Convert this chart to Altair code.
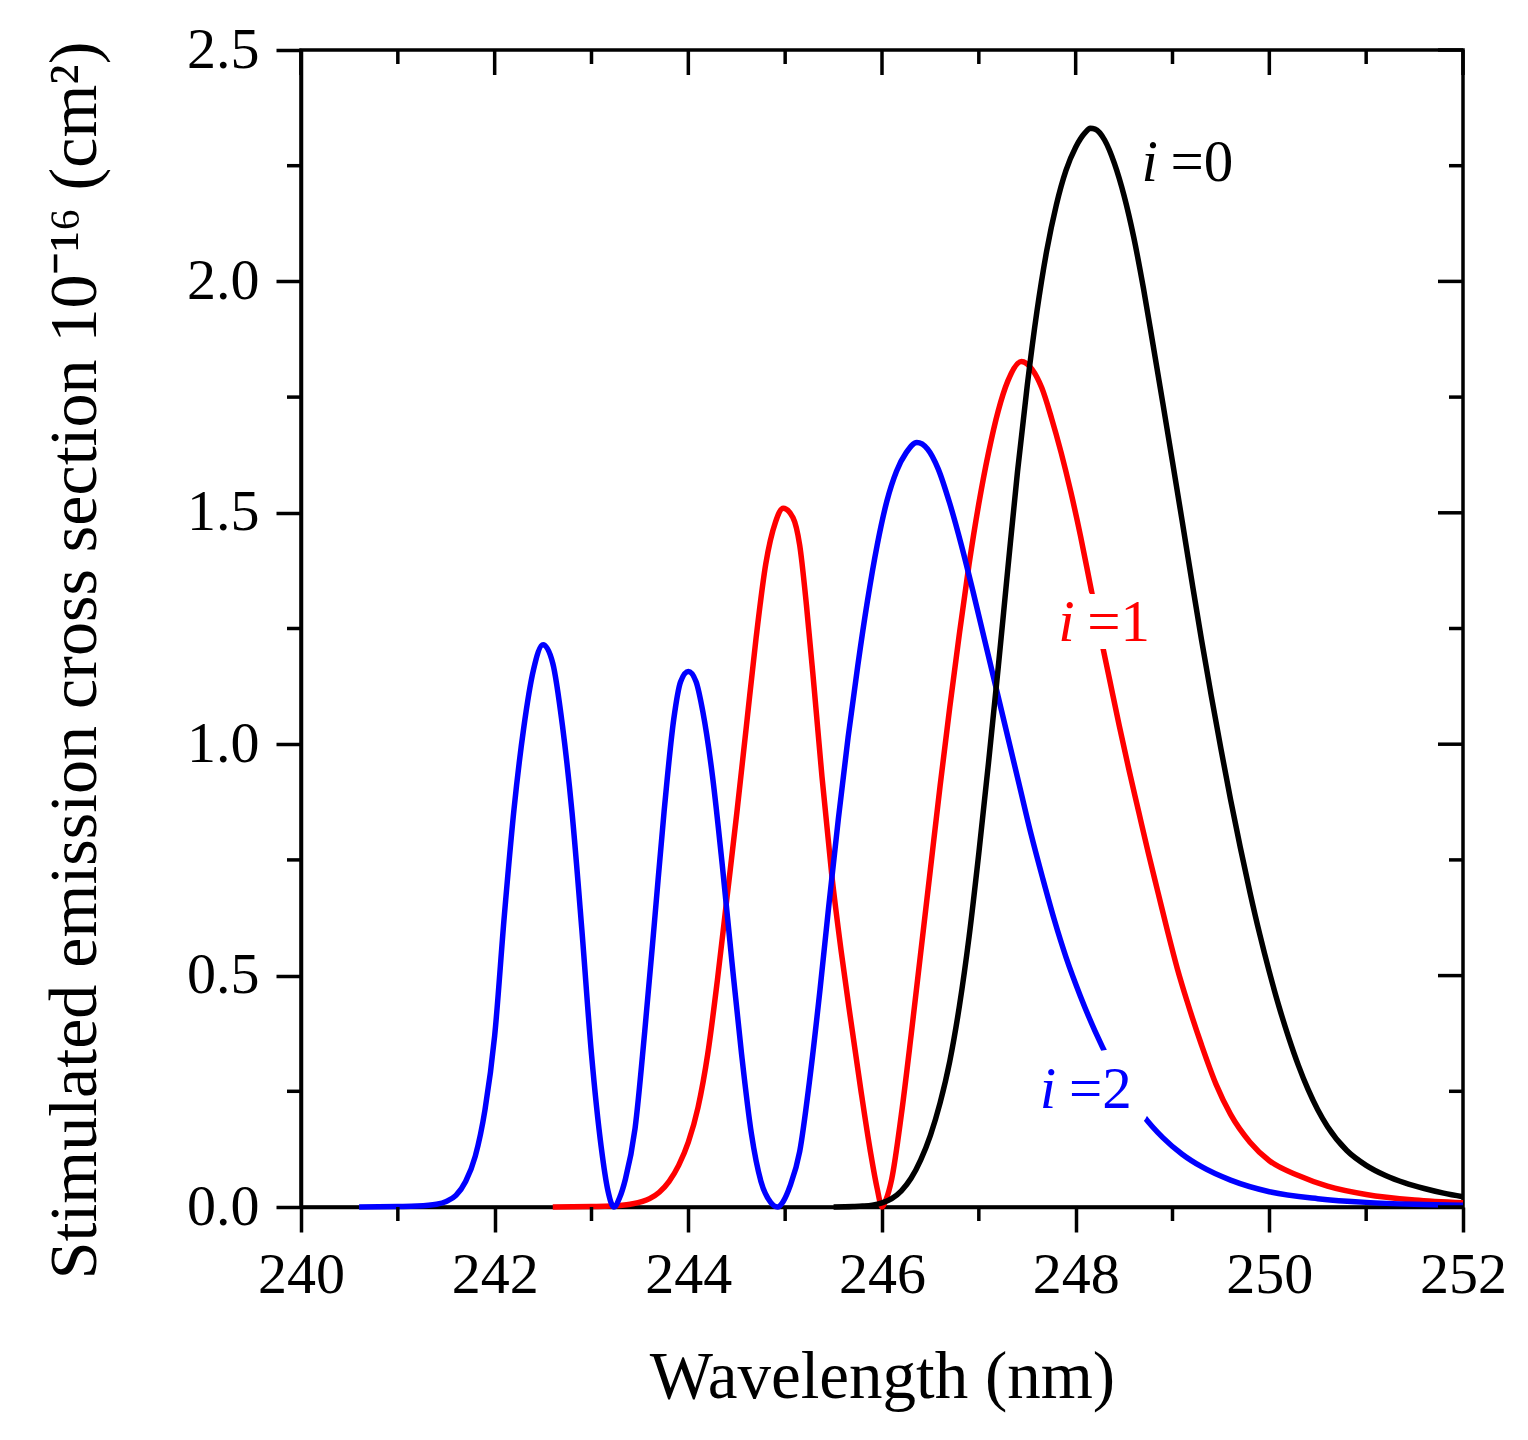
import altair as alt
import pandas as pd

# ---- data ----
# i = 0 (black)
lam0 = [245.5, 245.7, 245.8, 245.9, 246.0, 246.1, 246.2, 246.3, 246.4, 246.5, 246.6, 246.7,
        246.8, 246.9, 247.0, 247.1, 247.2, 247.3, 247.4, 247.5, 247.6, 247.7, 247.8, 247.9,
        248.0, 248.1, 248.15, 248.2, 248.3, 248.4, 248.5, 248.6, 248.7, 248.8, 248.9, 249.0,
        249.1, 249.2, 249.3, 249.4, 249.5, 249.6, 249.7, 249.8, 249.9, 250.0, 250.1, 250.2,
        250.3, 250.4, 250.5, 250.6, 250.8, 251.0, 251.2, 251.4, 251.6, 251.8, 252.0]
sig0 = [0.0, 0.001, 0.002, 0.004, 0.009, 0.018, 0.035, 0.062, 0.102, 0.155, 0.225, 0.315,
        0.435, 0.585, 0.765, 0.96, 1.165, 1.38, 1.59, 1.775, 1.935, 2.065, 2.165, 2.24,
        2.29, 2.322, 2.331, 2.329, 2.305, 2.255, 2.185, 2.095, 1.985, 1.862, 1.737, 1.61,
        1.482, 1.352, 1.225, 1.105, 0.99, 0.88, 0.777, 0.68, 0.59, 0.508, 0.433, 0.366,
        0.306, 0.254, 0.21, 0.174, 0.122, 0.09, 0.068, 0.052, 0.04, 0.03, 0.022]
# i = 1 (red)
lam1 = [242.6, 243.0, 243.2, 243.4, 243.6, 243.7, 243.8, 243.9, 244.0, 244.1, 244.2, 244.3,
        244.4, 244.5, 244.6, 244.7, 244.8, 244.9, 244.98, 245.08, 245.15, 245.22, 245.3,
        245.38, 245.48, 245.58, 245.68, 245.78, 245.88, 245.95, 246.0, 246.04, 246.1, 246.2,
        246.3, 246.4, 246.5, 246.6, 246.7, 246.8, 246.9, 247.0, 247.1, 247.2, 247.3, 247.44,
        247.55, 247.65, 247.75, 247.85, 247.95, 248.05, 248.15, 248.25, 248.35, 248.45,
        248.55, 248.65, 248.75, 248.85, 248.95, 249.05, 249.15, 249.3, 249.45, 249.6, 249.8,
        250.0, 250.3, 250.6, 251.0, 251.5, 252.0]
sig1 = [0.0, 0.001, 0.002, 0.006, 0.018, 0.032, 0.055, 0.09, 0.14, 0.215, 0.33, 0.49,
        0.67, 0.85, 1.04, 1.23, 1.39, 1.48, 1.51, 1.49, 1.43, 1.3, 1.12,
        0.93, 0.72, 0.55, 0.4, 0.255, 0.12, 0.04, 0.0, 0.015, 0.06, 0.2,
        0.37, 0.55, 0.73, 0.91, 1.08, 1.24, 1.39, 1.52, 1.63, 1.72, 1.785, 1.827,
        1.81, 1.77, 1.705, 1.63, 1.545, 1.45, 1.345, 1.24, 1.14, 1.04,
        0.945, 0.855, 0.765, 0.68, 0.595, 0.515, 0.445, 0.35, 0.265, 0.2, 0.14,
        0.1, 0.068, 0.045, 0.027, 0.015, 0.009]
# i = 2 (blue)
lam2 = [240.6, 241.0, 241.2, 241.4, 241.5, 241.6, 241.7, 241.8, 241.9, 242.0, 242.1, 242.2,
        242.3, 242.4, 242.5, 242.6, 242.7, 242.8, 242.9, 243.0, 243.1, 243.17, 243.23, 243.29,
        243.35, 243.45, 243.55, 243.65, 243.75, 243.85, 243.92, 244.0, 244.08, 244.15, 244.25,
        244.35, 244.45, 244.55, 244.65, 244.75, 244.85, 244.92, 244.98, 245.05, 245.15, 245.25,
        245.36, 245.45, 245.55, 245.65, 245.75, 245.85, 245.95, 246.05, 246.15, 246.25, 246.36,
        246.47, 246.58, 246.7, 246.82, 246.94, 247.06, 247.18, 247.3, 247.42, 247.54, 247.66,
        247.78, 247.9, 248.05, 248.2, 248.35, 248.5, 248.7, 248.9, 249.1, 249.3, 249.6, 250.0,
        250.5, 251.0, 251.5, 252.0]
sig2 = [0.0, 0.001, 0.002, 0.006, 0.012, 0.025, 0.055, 0.11, 0.21, 0.37, 0.63, 0.86,
        1.035, 1.16, 1.215, 1.175, 1.04, 0.85, 0.6, 0.33, 0.13, 0.035, 0.0, 0.02,
        0.06, 0.17, 0.38, 0.615, 0.855, 1.055, 1.135, 1.157, 1.135, 1.07, 0.93,
        0.74, 0.53, 0.33, 0.16, 0.055, 0.01, 0.0, 0.012, 0.045, 0.12, 0.27,
        0.47, 0.65, 0.84, 1.015, 1.17, 1.31, 1.43, 1.525, 1.59, 1.63, 1.652,
        1.638, 1.595, 1.52, 1.43, 1.33, 1.225, 1.12, 1.015, 0.91, 0.805, 0.71,
        0.62, 0.54, 0.455, 0.38, 0.315, 0.26, 0.197, 0.15, 0.114, 0.087, 0.058, 0.033,
        0.018, 0.01, 0.006, 0.004]

series_names = ["i0", "i1", "i2"]
series_colors = ["#000000", "#ff0000", "#0000ff"]

x_major = [240, 242, 244, 246, 248, 250, 252]
x_minor = [241, 243, 245, 247, 249, 251]
y_major = [0.0, 0.5, 1.0, 1.5, 2.0, 2.5]
y_minor = [0.25, 0.75, 1.25, 1.75, 2.25]

# curve labels ("i =0" etc.)
lab_series = ["i0", "i1", "i2"]
lab_i_lam = [248.68, 247.82, 247.63]
lab_eq_lam = [248.98, 248.12, 247.93]
lab_sig = [2.218, 1.222, 0.214]
lab_eq_text = ["=0", "=1", "=2"]

# ---- build tables ----
rows = []
for name, ls, ss in zip(series_names, [lam0, lam1, lam2], [sig0, sig1, sig2]):
    for l, s in zip(ls, ss):
        rows.append({"lam": l, "sig": s, "series": name})
curves = pd.DataFrame(rows)
labels = pd.DataFrame({"series": lab_series, "li": lab_i_lam, "le": lab_eq_lam,
                       "sig": lab_sig, "eq": lab_eq_text})

W, H = 1162, 1157
FONT = "Liberation Serif"
MAJ, MIN = 25, 14
LW = 3.5
LABEL_FS = 59

xscale = alt.Scale(domain=[240, 252], nice=False, zero=False)
yscale = alt.Scale(domain=[0, 2.5], nice=False)
cscale = alt.Scale(domain=series_names, range=series_colors)

xaxis = alt.Axis(values=x_major, title="Wavelength (nm)", tickSize=MAJ, tickWidth=LW,
                 domainWidth=LW, domainColor="black", tickColor="black",
                 labelFont=FONT, labelFontSize=58, labelColor="black", labelPadding=14,
                 labelFlush=False, labelOverlap=False, grid=False, format="d",
                 titleFont=FONT, titleFontSize=67, titleFontWeight="normal",
                 titleColor="black", titlePadding=40)
yaxis = alt.Axis(values=y_major,
                 title="Stimulated emission cross section 10\u207b\u00b9\u2076 (cm\u00b2)",
                 tickSize=MAJ, tickWidth=LW, domainWidth=LW, domainColor="black",
                 tickColor="black", labelFont=FONT, labelFontSize=58, labelColor="black",
                 labelPadding=17, labelFlush=False, labelOverlap=False, grid=False,
                 format=".1f", titleFont=FONT, titleFontSize=68, titleFontWeight="normal",
                 titleColor="black", titlePadding=77, titleY=610)


def X(field):
    return alt.X(field, type="quantitative", scale=xscale, axis=xaxis)


def Y(field):
    return alt.Y(field, type="quantitative", scale=yscale, axis=yaxis)


def curve_layer(name):
    return alt.Chart(curves).transform_filter(alt.datum.series == name).mark_line(
        strokeWidth=5.5, interpolate="monotone").encode(
        x=X("lam"), y=Y("sig"),
        color=alt.Color("series:N", scale=cscale, legend=None))


line_layers = [curve_layer("i1"), curve_layer("i2"), curve_layer("i0")]

base_lab = alt.Chart(labels)
halo_src = base_lab.transform_filter(alt.datum.series != "i0")
halo_i = halo_src.mark_text(font=FONT, fontSize=LABEL_FS, fontStyle="italic", align="left",
                            baseline="alphabetic", fill="white", stroke="white",
                            strokeWidth=40, strokeJoin="round").encode(
    x=X("li"), y=Y("sig"), text=alt.value("i"))
halo_eq = halo_src.mark_text(font=FONT, fontSize=LABEL_FS, align="left",
                             baseline="alphabetic", fill="white", stroke="white",
                             strokeWidth=40, strokeJoin="round").encode(
    x=X("le"), y=Y("sig"), text="eq:N")
text_i = base_lab.mark_text(font=FONT, fontSize=LABEL_FS, fontStyle="italic", align="left",
                            baseline="alphabetic").encode(
    x=X("li"), y=Y("sig"), text=alt.value("i"),
    color=alt.Color("series:N", scale=cscale, legend=None))
text_eq = base_lab.mark_text(font=FONT, fontSize=LABEL_FS, align="left",
                             baseline="alphabetic").encode(
    x=X("le"), y=Y("sig"), text="eq:N",
    color=alt.Color("series:N", scale=cscale, legend=None))

xmaj_df = pd.DataFrame({"lam": x_major})
xmin_df = pd.DataFrame({"lam": x_minor})
ymaj_df = pd.DataFrame({"sig": y_major})
ymin_df = pd.DataFrame({"sig": y_minor})


def xrule(df, y0, y1):
    return alt.Chart(df).mark_rule(color="black", strokeWidth=LW).encode(
        x=X("lam"), y=alt.value(y0), y2=alt.value(y1))


def yrule(df, x0, x1):
    return alt.Chart(df).mark_rule(color="black", strokeWidth=LW).encode(
        y=Y("sig"), x=alt.value(x0), x2=alt.value(x1))


ticks = [
    xrule(xmaj_df, 0, MAJ), xrule(xmin_df, 0, MIN),          # top, inward
    xrule(xmin_df, H, H + MIN),                              # bottom minor, outward
    yrule(ymaj_df, W - MAJ, W), yrule(ymin_df, W - MIN, W),  # right, inward
    yrule(ymin_df, -MIN, 0),                                 # left minor, outward
]

chart = alt.layer(*line_layers, halo_i, halo_eq, text_i, text_eq, *ticks).properties(
    width=W, height=H, background="white",
    padding={"left": 33, "top": 13, "right": 10, "bottom": 10},
).configure_view(stroke="black", strokeWidth=LW)

chart.save("out.html", embed_options={"renderer": "svg", "actions": False})
